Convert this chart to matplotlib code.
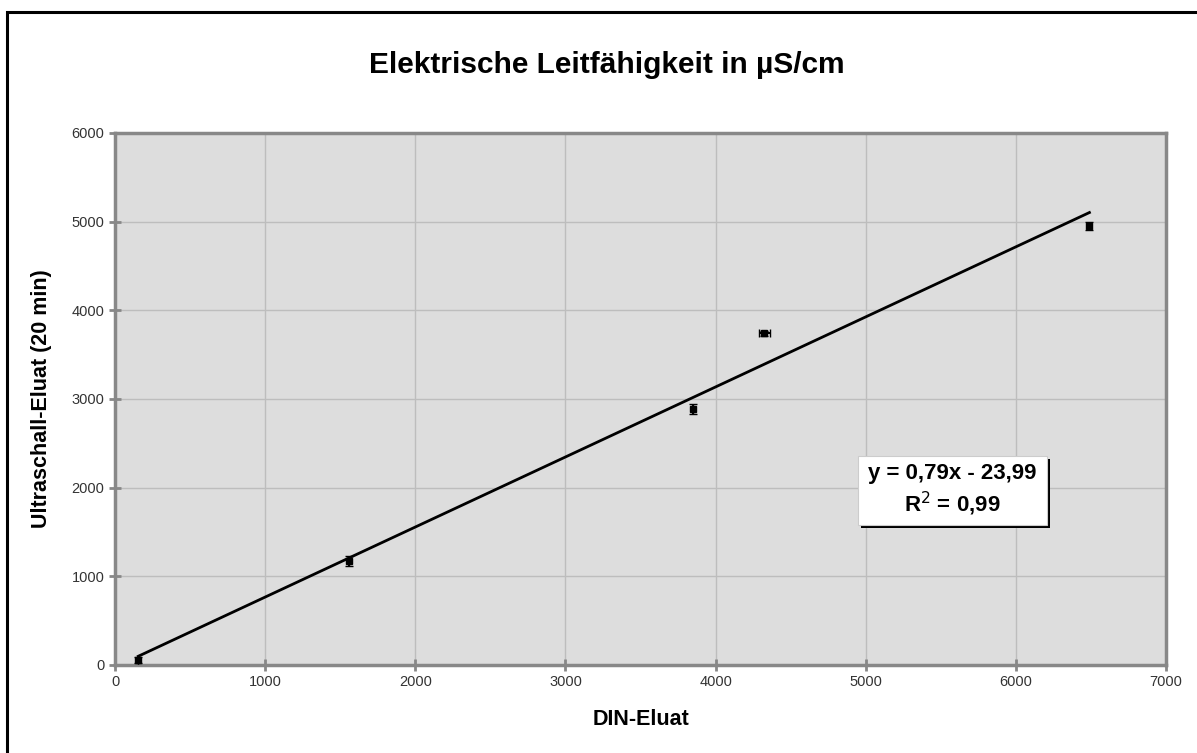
import matplotlib.pyplot as plt
from matplotlib.patches import Rectangle
import numpy as np

plt.rcParams['font.family'] = ['Liberation Sans', 'DejaVu Sans']

# Leitfähigkeit: DIN-Eluat vs. Ultraschall-Eluat (20 min)
din_eluat = [155, 1560, 3850, 4325, 6490]
us_eluat = [60, 1170, 2885, 3740, 4950]
us_err = [35, 55, 55, 25, 45]
din_err = [0, 0, 0, 35, 0]

slope = 0.79
intercept = -23.99
r_squared = 0.99

fig = plt.figure(figsize=(11.97, 7.53), dpi=100)
fig.patch.set_facecolor('white')

# Rahmen oben/links
fig.patches.append(Rectangle((7 / 1197, -0.1), 1.2, (753 - 12) / 753 + 0.1,
                             transform=fig.transFigure, fill=False,
                             edgecolor='black', linewidth=2.2, zorder=0))

ax = fig.add_axes([115 / 1197, 88 / 753, (1166 - 115) / 1197, (665 - 133) / 753])
ax.set_facecolor('#dddddd')
ax.set_xlim(0, 7000)
ax.set_ylim(0, 6000)
ax.set_xticks(np.arange(0, 7001, 1000))
ax.set_yticks(np.arange(0, 6001, 1000))
ax.grid(True, color='#bdbdbd', linewidth=1.0)
ax.set_axisbelow(True)
for s in ax.spines.values():
    s.set_color('#888888')
    s.set_linewidth(2.5)
ax.tick_params(axis='both', direction='inout', length=8, width=2,
               color='#888888', labelsize=10.5, labelcolor='#333333')

# Trendlinie aus der Gleichung
xs = np.array([din_eluat[0], din_eluat[-1]])
ax.plot(xs, slope * xs + intercept, color='black', linewidth=2, zorder=3)

ax.errorbar(din_eluat, us_eluat, yerr=us_err, xerr=din_err, fmt='s',
            color='black', markersize=5, capsize=3, elinewidth=1.5, zorder=4)

ax.set_xlabel('DIN-Eluat', fontsize=15.5, fontweight='bold', labelpad=14)
ax.set_ylabel('Ultraschall-Eluat (20 min)', fontsize=15.5, fontweight='bold', labelpad=14)

fig.text(0.507, 0.914, 'Elektrische Leitfähigkeit in µS/cm', ha='center', va='center',
         fontsize=21.5, fontweight='bold')

# Gleichungsbox mit Schatten
box_x0, box_x1 = 858 / 1197, 1047 / 1197
box_y0, box_y1 = (753 - 525) / 753, (753 - 456) / 753
fig.patches.append(Rectangle((box_x0 + 3 / 1197, box_y0 - 3 / 753), box_x1 - box_x0, box_y1 - box_y0,
                             transform=fig.transFigure, facecolor='black',
                             edgecolor='none', zorder=5))
fig.patches.append(Rectangle((box_x0, box_y0), box_x1 - box_x0, box_y1 - box_y0,
                             transform=fig.transFigure, facecolor='white',
                             edgecolor='#cccccc', linewidth=0.8, zorder=6))
fig.text((box_x0 + box_x1) / 2, (box_y0 + box_y1) / 2,
         f'y = {slope:.2f}x - {abs(intercept):.2f}'.replace('.', ',') + '\n'
         + f'R$^2$ = {r_squared:.2f}'.replace('.', ','),
         ha='center', va='center', fontsize=16, fontweight='bold',
         linespacing=1.3, zorder=7)

fig.savefig('out.png', dpi=100)
